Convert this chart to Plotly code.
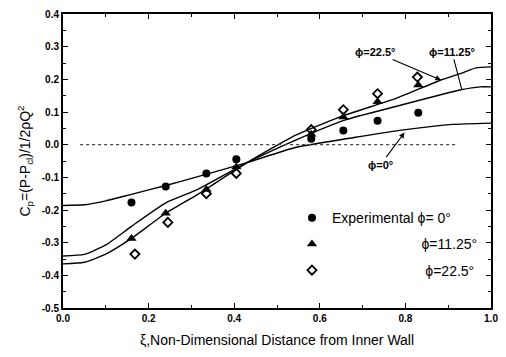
import plotly.graph_objects as go

# ---- data ----
exp_x = [0.16, 0.24, 0.335, 0.405, 0.58, 0.655, 0.735, 0.83]
exp_phi0 = [-0.177, -0.128, -0.088, -0.045, 0.018, 0.043, 0.073, 0.098]
exp_phi1125 = [-0.287, -0.21, -0.137, -0.068, 0.032, 0.085, 0.131, 0.183]
exp_x_225 = [0.168, 0.245, 0.335, 0.405, 0.58, 0.655, 0.735, 0.828]
exp_phi225 = [-0.335, -0.238, -0.15, -0.088, 0.046, 0.107, 0.156, 0.207]

cur0_x = [0, 0.05, 0.1, 0.16, 0.24, 0.315, 0.43, 0.545, 0.68, 0.8, 0.91, 1.0]
cur0_y = [-0.186, -0.184, -0.172, -0.152, -0.125, -0.098, -0.055, -0.008, 0.022, 0.046, 0.062, 0.066]
curB_x = [0, 0.05, 0.1, 0.16, 0.24, 0.315, 0.43, 0.545, 0.66, 0.775, 0.93, 0.975, 1.0]
curB_y = [-0.341, -0.336, -0.307, -0.25, -0.178, -0.137, -0.055, 0.015, 0.076, 0.116, 0.168, 0.177, 0.177]
curA_x = [0, 0.05, 0.1, 0.16, 0.24, 0.315, 0.43, 0.545, 0.66, 0.775, 0.883, 0.93, 0.965, 1.0]
curA_y = [-0.365, -0.36, -0.335, -0.287, -0.21, -0.152, -0.055, 0.03, 0.091, 0.14, 0.198, 0.218, 0.235, 0.238]

x_tickvals = [0.0, 0.2, 0.4, 0.6, 0.8, 1.0]
x_ticktext = ["0.0", "0.2", "0.4", "0.6", "0.8", "1.0"]
y_tickvals = [0.4, 0.3, 0.2, 0.1, 0.0, -0.1, -0.2, -0.3, -0.4, -0.5]
y_ticktext = ["0.4", "0.3", "0.2", "0.1", "0.0", "-0.1", "-0.2", "-0.3", "-0.4", "-0.5"]

NB = "\u00a0"
FONT = "Liberation Sans"

fig = go.Figure()
for xs, ys in [(cur0_x, cur0_y), (curB_x, curB_y), (curA_x, curA_y)]:
    fig.add_trace(go.Scatter(x=xs, y=ys, mode="lines", showlegend=False,
                             line=dict(color="black", width=1.4, shape="spline", smoothing=0.5),
                             hoverinfo="skip"))

fig.add_trace(go.Scatter(x=exp_x, y=exp_phi0, mode="markers", name="Experimental ϕ= 0°",
                         legendgroup="a",
                         marker=dict(symbol="circle", size=8, color="black")))
fig.add_trace(go.Scatter(x=exp_x, y=exp_phi1125, mode="markers",
                         name=NB * 23 + "ϕ=11.25°", legendgroup="b",
                         marker=dict(symbol="triangle-up", size=9, color="black")))
fig.add_trace(go.Scatter(x=exp_x_225, y=exp_phi225, mode="markers",
                         name=NB * 24 + "ϕ=22.5°", legendgroup="c",
                         marker=dict(symbol="diamond-open", size=7, color="black",
                                     line=dict(width=1.8, color="black"))))

# dotted zero line
fig.add_shape(type="line", x0=0.04, x1=0.92, y0=0, y1=0, xref="x", yref="y",
              line=dict(color="#444", width=1.2, dash="dot"))

ann_font = dict(family=FONT, size=11, color="black", weight="bold")
fig.add_annotation(x=0.883, y=0.198, ax=-66, ay=-28, axref="pixel", ayref="pixel",
                   text="ϕ=22.5°", font=ann_font, showarrow=True, arrowhead=2,
                   arrowsize=1, arrowwidth=1.1, arrowcolor="black", standoff=0)
fig.add_annotation(x=0.932, y=0.168, ax=-10, ay=-38, axref="pixel", ayref="pixel",
                   text="ϕ=11.25°", font=ann_font, showarrow=True, arrowhead=0,
                   arrowwidth=1.1, arrowcolor="black")
fig.add_annotation(x=0.798, y=0.037, ax=-24, ay=32, axref="pixel", ayref="pixel",
                   text="ϕ=0°", font=ann_font, showarrow=True, arrowhead=2,
                   arrowsize=1, arrowwidth=1.1, arrowcolor="black")

axis_common = dict(showline=True, linecolor="black", linewidth=2, mirror="ticks",
                   ticks="inside", ticklen=5, tickwidth=1.2, tickcolor="black",
                   showgrid=False, zeroline=False,
                   tickfont=dict(family=FONT, size=10, color="black", weight="bold"))

fig.update_layout(
    width=506, height=357,
    margin=dict(l=63, r=8, t=12, b=49),
    paper_bgcolor="white", plot_bgcolor="white",
    font=dict(family=FONT, color="black"),
    xaxis=dict(range=[0, 1.0], tickvals=x_tickvals, ticktext=x_ticktext,
               minor=dict(dtick=0.1, ticks="inside", ticklen=3, tickcolor="black"),
               title=dict(text="ξ,Non-Dimensional Distance from Inner Wall",
                          font=dict(family=FONT, size=14, color="black"), standoff=12),
               **axis_common),
    yaxis=dict(range=[-0.5, 0.4], tickvals=y_tickvals, ticktext=y_ticktext,
               minor=dict(dtick=0.05, ticks="inside", ticklen=3, tickcolor="black"),
               title=dict(text="C<sub>p</sub>=(P-P<sub>cl</sub>)/1/2ρQ<sup>2</sup>",
                          font=dict(family=FONT, size=14, color="black"), standoff=8),
               **axis_common),
    legend=dict(x=0.535, y=0.36, xanchor="left", yanchor="top",
                bgcolor="rgba(0,0,0,0)", tracegroupgap=5,
                font=dict(family=FONT, size=14, color="black")),
    showlegend=True,
)

fig.write_html("out.html")
